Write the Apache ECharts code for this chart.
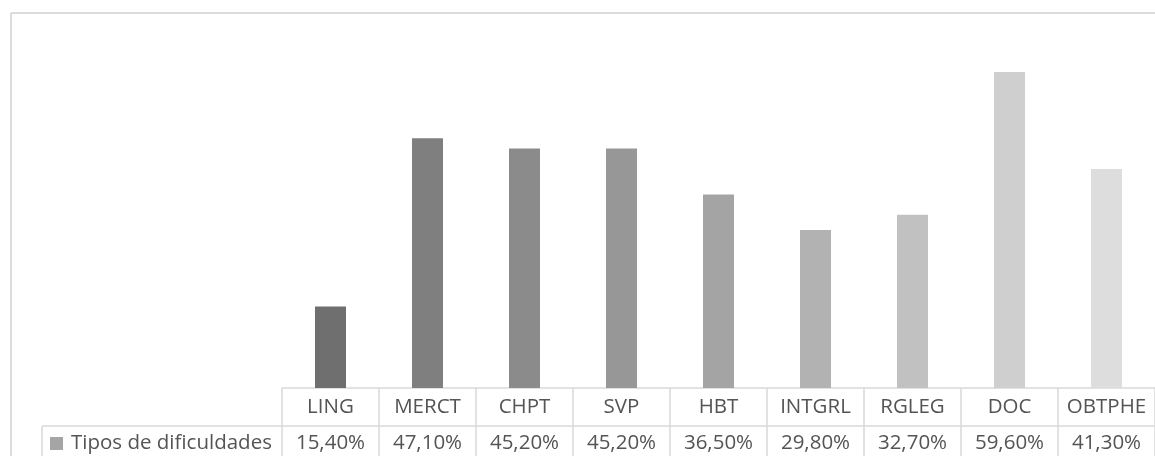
<!DOCTYPE html>
<html>
<head>
<meta charset="utf-8">
<script src="https://cdn.jsdelivr.net/npm/echarts@6/dist/echarts.min.js"></script>
<style>
  html, body { margin: 0; padding: 0; background: #ffffff; overflow: hidden; }
  #chart { width: 1155px; height: 456px; }
</style>
</head>
<body>
<div id="chart"></div>
<script>
// Difficulty types (percent of respondents)
const categories = ['LING', 'MERCT', 'CHPT', 'SVP', 'HBT', 'INTGRL', 'RGLEG', 'DOC', 'OBTPHE'];
const values = [15.4, 47.1, 45.2, 45.2, 36.5, 29.8, 32.7, 59.6, 41.3];
const barColors = ['#6f6f6f', '#7f7f7f', '#8b8b8b', '#979797', '#a4a4a4', '#b2b2b2', '#c1c1c1', '#cfcfcf', '#dddddd'];
const seriesName = 'Tipos de dificuldades';

const FONT = '"Open Sans", "Liberation Sans", sans-serif';
const TEXT = '#545454';
const GRIDLINE = '#d9d9d9';
const FONT_SIZE = 20.5;

// Data-table row: "15,40%" style, comma as decimal separator
const valueLabels = values.map(v => v.toFixed(2).replace('.', ',') + '%');

const chart = echarts.init(document.getElementById('chart'), null, { renderer: 'canvas' });

chart.setOption({
  backgroundColor: '#ffffff',
  animation: false,
  legend: {
    data: [seriesName],
    left: 50,
    top: 433,
    padding: 0,
    icon: 'rect',
    itemWidth: 13,
    itemHeight: 13,
    itemGap: 0,
    textStyle: { fontFamily: FONT, fontSize: FONT_SIZE, lineHeight: 20, color: TEXT, padding: [0, 0, 0, 3] }
  },
  grid: { left: 282, right: -5, top: 17, bottom: 68 },
  xAxis: [
    {
      type: 'category',
      data: categories,
      position: 'bottom',
      axisLine: { show: true, lineStyle: { color: GRIDLINE, width: 1.5 } },
      axisTick: { show: true, length: 70, interval: 0, lineStyle: { color: GRIDLINE, width: 1.5 } },
      axisLabel: {
        interval: 0, margin: 19, verticalAlign: 'middle',
        fontFamily: FONT, fontSize: FONT_SIZE, color: TEXT
      },
      splitLine: { show: false }
    },
    {
      type: 'category',
      data: valueLabels,
      position: 'bottom',
      offset: 38,
      axisLine: { show: true, lineStyle: { color: GRIDLINE, width: 1.5 } },
      axisTick: { show: false },
      axisLabel: {
        interval: 0, margin: 17, verticalAlign: 'middle',
        fontFamily: FONT, fontSize: FONT_SIZE, color: TEXT
      },
      splitLine: { show: false }
    }
  ],
  yAxis: {
    type: 'value',
    min: 0,
    max: 70,
    show: false,
    splitLine: { show: false }
  },
  series: [
    {
      name: seriesName,
      type: 'bar',
      xAxisIndex: 0,
      barWidth: 31,
      itemStyle: { color: '#a5a5a5' },
      data: values.map((v, i) => ({ value: v, itemStyle: { color: barColors[i] } }))
    }
  ],
  graphic: [
    // chart frame (left and top edges)
    { type: 'line', shape: { x1: 11, y1: 13, x2: 1155, y2: 13 }, style: { stroke: '#dcdcdc', lineWidth: 2 }, silent: true },
    { type: 'line', shape: { x1: 11, y1: 13, x2: 11, y2: 456 }, style: { stroke: '#dcdcdc', lineWidth: 2 }, silent: true },
    // data-table label cell borders
    { type: 'line', shape: { x1: 42, y1: 426, x2: 282, y2: 426 }, style: { stroke: GRIDLINE, lineWidth: 1.5 }, silent: true },
    { type: 'line', shape: { x1: 42, y1: 426, x2: 42, y2: 456 }, style: { stroke: GRIDLINE, lineWidth: 1.5 }, silent: true }
  ]
});
</script>
</body>
</html>
